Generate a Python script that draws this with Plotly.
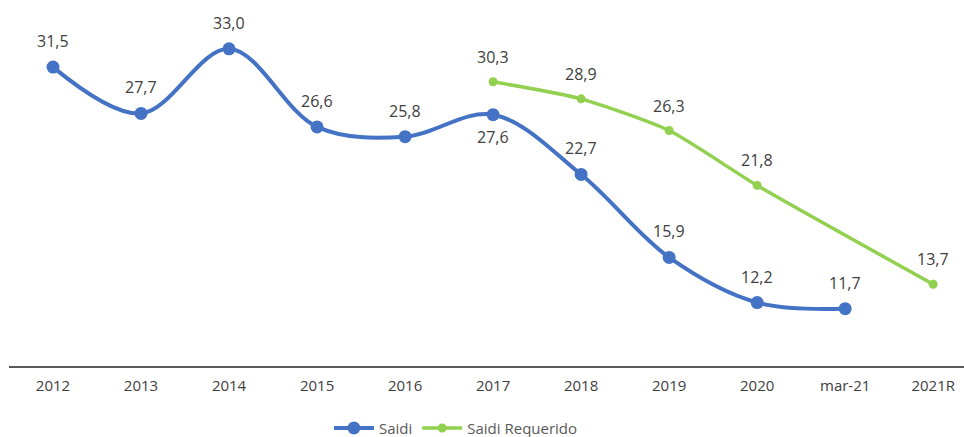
import plotly.graph_objects as go

categories = ["2012", "2013", "2014", "2015", "2016", "2017", "2018", "2019", "2020", "mar-21", "2021R"]
saidi = [31.5, 27.7, 33.0, 26.6, 25.8, 27.6, 22.7, 15.9, 12.2, 11.7, None]
saidi_req = [None, None, None, None, None, 30.3, 28.9, 26.3, 21.8, None, 13.7]
saidi_label_pos = ["above"] * 5 + ["below"] + ["above"] * 5

BLUE = "#4472C4"
GREEN = "#92D050"
FONT_FAM = "Open Sans, Noto Sans, sans-serif"
LABEL_FONT = dict(family=FONT_FAM, size=16, color="#404040")

fig = go.Figure()
fig.add_trace(go.Scatter(
    x=categories, y=saidi, name="Saidi", mode="lines+markers",
    line=dict(color=BLUE, width=4, shape="spline", smoothing=1.0),
    marker=dict(color=BLUE, size=13),
))
fig.add_trace(go.Scatter(
    x=categories, y=saidi_req, name="Saidi Requerido", mode="lines+markers",
    connectgaps=True,
    line=dict(color=GREEN, width=3.5, shape="spline", smoothing=0.6),
    marker=dict(color=GREEN, size=9),
))

annotations = []
for i, (v, p) in enumerate(zip(saidi, saidi_label_pos)):
    if v is None:
        continue
    annotations.append(dict(x=i, y=v, xref="x", yref="y", text=f"{v:.1f}".replace(".", ","),
                            showarrow=False, yshift=26 if p == "above" else -22, font=LABEL_FONT))
for i, v in enumerate(saidi_req):
    if v is None:
        continue
    annotations.append(dict(x=i, y=v, xref="x", yref="y", text=f"{v:.1f}".replace(".", ","),
                            showarrow=False, yshift=25, font=LABEL_FONT))

fig.update_layout(
    width=964, height=437,
    margin=dict(l=9, r=0, t=0, b=71, autoexpand=False),
    plot_bgcolor="white", paper_bgcolor="white",
    showlegend=True,
    legend=dict(orientation="h", x=0.335, xanchor="left", yref="container", y=0.02, yanchor="middle",
                font=dict(family=FONT_FAM, size=15, color="#595959"),
                itemwidth=40),
    annotations=annotations,
    xaxis=dict(type="category", range=[-0.5, 10.35], showgrid=False, zeroline=False,
               showline=True, linecolor="#595959", linewidth=2, ticks="",
               ticklabelstandoff=5, automargin=False,
               tickfont=dict(family=FONT_FAM, size=15, color="#404040")),
    yaxis=dict(range=[7, 37], visible=False, showgrid=False, zeroline=False, automargin=False),
)

fig.write_html("out.html")
